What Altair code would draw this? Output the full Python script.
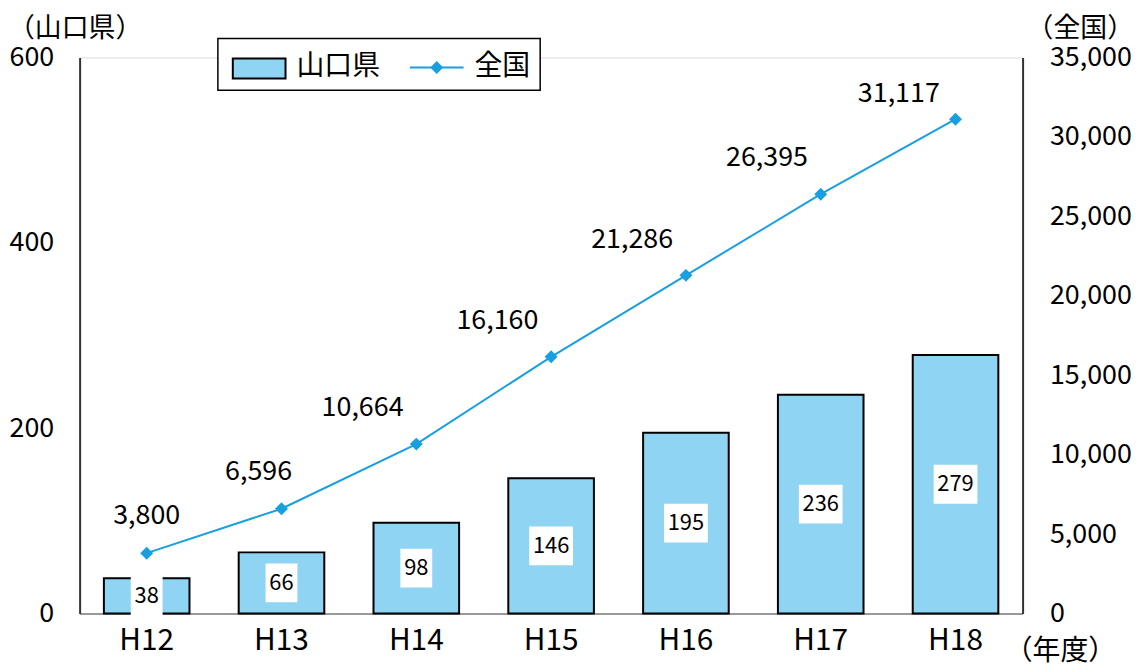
import altair as alt
import pandas as pd

years = ["H12", "H13", "H14", "H15", "H16", "H17", "H18"]
yamaguchi = [38, 66, 98, 146, 195, 236, 279]
national = [3800, 6596, 10664, 16160, 21286, 26395, 31117]
left_ticks = [0, 200, 400, 600]
right_ticks = [0, 5000, 10000, 15000, 20000, 25000, 30000, 35000]

df = pd.DataFrame({"year": years, "yamaguchi": yamaguchi, "national": national})
one = pd.DataFrame({"k": [0]})

FONT = "Noto Sans CJK JP"
W, H = 948, 559
BAR = "#8FD4F3"
LINE = "#189FE0"

xenc = alt.X(
    "year:N", sort=years,
    scale=alt.Scale(paddingInner=0.365, paddingOuter=0.18),
    axis=alt.Axis(title=None, labelAngle=0, labelFontSize=30, labelFont=FONT,
                  labelColor="black", domainColor="#999999", domainWidth=2,
                  ticks=False, tickSize=0, labelPadding=12),
)
ly = alt.Scale(domain=[0, 600], nice=False)
ry = alt.Scale(domain=[0, 35000], nice=False)
laxis = alt.Axis(values=left_ticks, title=None, orient="left",
                 labelFontSize=27, labelFont=FONT, labelColor="black",
                 domainColor="#333333", domainWidth=2, ticks=False,
                 tickSize=0, labelPadding=26, grid=False)
raxis = alt.Axis(values=right_ticks, title=None, orient="right",
                 labelExpr="format(datum.value, ',')",
                 labelFontSize=27, labelFont=FONT, labelColor="black",
                 domainColor="#333333", domainWidth=2, ticks=False,
                 tickSize=0, labelPadding=27, grid=False)

base = alt.Chart(df).transform_calculate(
    mid="datum.yamaguchi / 2",
    box="datum.yamaguchi >= 100 ? 'M-1.1,-0.975H1.1V0.975H-1.1Z' : 'M-0.8,-0.975H0.8V0.975H-0.8Z'",
)

bars = base.mark_bar(fill=BAR, stroke="black", strokeWidth=2).encode(
    x=xenc,
    y=alt.Y("yamaguchi:Q", scale=ly, axis=laxis),
)

boxes = base.mark_point(filled=True, fill="white", strokeWidth=0, size=1600, opacity=1).encode(
    x=xenc,
    y=alt.Y("mid:Q", scale=ly, axis=laxis),
    shape=alt.Shape("box:N", scale=None),
)

bartext = base.mark_text(
    font=FONT, fontSize=22, color="black", baseline="middle"
).encode(
    x=xenc,
    y=alt.Y("mid:Q", scale=ly, axis=laxis),
    text=alt.Text("yamaguchi:Q"),
)

left = alt.layer(bars, boxes, bartext)

line = base.mark_line(color=LINE, strokeWidth=2).encode(
    x=xenc,
    y=alt.Y("national:Q", scale=ry, axis=raxis),
)
pts = base.mark_point(shape="diamond", filled=True, color=LINE, size=170, opacity=1).encode(
    x=xenc,
    y=alt.Y("national:Q", scale=ry, axis=raxis),
)


def lab(cond, dx, dy):
    return base.transform_filter(cond).mark_text(
        font=FONT, fontSize=27, color="black", baseline="middle", dx=dx, dy=dy
    ).encode(
        x=xenc,
        y=alt.Y("national:Q", scale=ry, axis=raxis),
        text=alt.Text("national:Q", format=","),
    )


labels = [
    lab("datum.year == 'H12'", 0, -37),
    lab("datum.year == 'H13'", -23, -37),
    lab("datum.year != 'H12' && datum.year != 'H13' && datum.year != 'H18'", -54, -36),
    lab("datum.year == 'H18'", -57, -25),
]

right = alt.layer(line, pts, *labels)


def note(t, x, y, size=28, align="left"):
    return alt.Chart(one).mark_text(
        text=t, font=FONT, fontSize=size, color="black", align=align, baseline="middle"
    ).encode(x=alt.value(x), y=alt.value(y))


notes = [
    note("（山口県）", -72, -29, 27),
    note("（全国）", 1060, -29, 27, "right"),
    note("（年度）", 1042, 598, 28, "right"),
]

leg_box = alt.Chart(one).mark_rect(fill="white", stroke="black", strokeWidth=1.5).encode(
    x=alt.value(139), x2=alt.value(463), y=alt.value(-19), y2=alt.value(33)
)
leg_bar = alt.Chart(one).mark_rect(fill=BAR, stroke="black", strokeWidth=2).encode(
    x=alt.value(154), x2=alt.value(207), y=alt.value(1), y2=alt.value(21)
)
leg_line = alt.Chart(one).mark_rule(color=LINE, strokeWidth=2).encode(
    x=alt.value(332), x2=alt.value(386), y=alt.value(10)
)
leg_pt = alt.Chart(one).mark_point(shape="diamond", filled=True, color=LINE, size=170, opacity=1).encode(
    x=alt.value(359), y=alt.value(10)
)
leg_t1 = note("山口県", 218, 10, 28)
leg_t2 = note("全国", 397, 10, 28)

chart = alt.layer(
    left, right, *notes, leg_box, leg_bar, leg_line, leg_pt, leg_t1, leg_t2
).resolve_scale(y="independent").properties(
    width=W, height=H,
    autosize=alt.AutoSizeParams(type="none"),
    padding={"left": 72, "top": 48, "right": 112, "bottom": 54},
).configure_view(stroke="#999999", strokeWidth=2).configure(background="white")

chart.save("out.html", embed_options={"renderer": "svg", "actions": False})
